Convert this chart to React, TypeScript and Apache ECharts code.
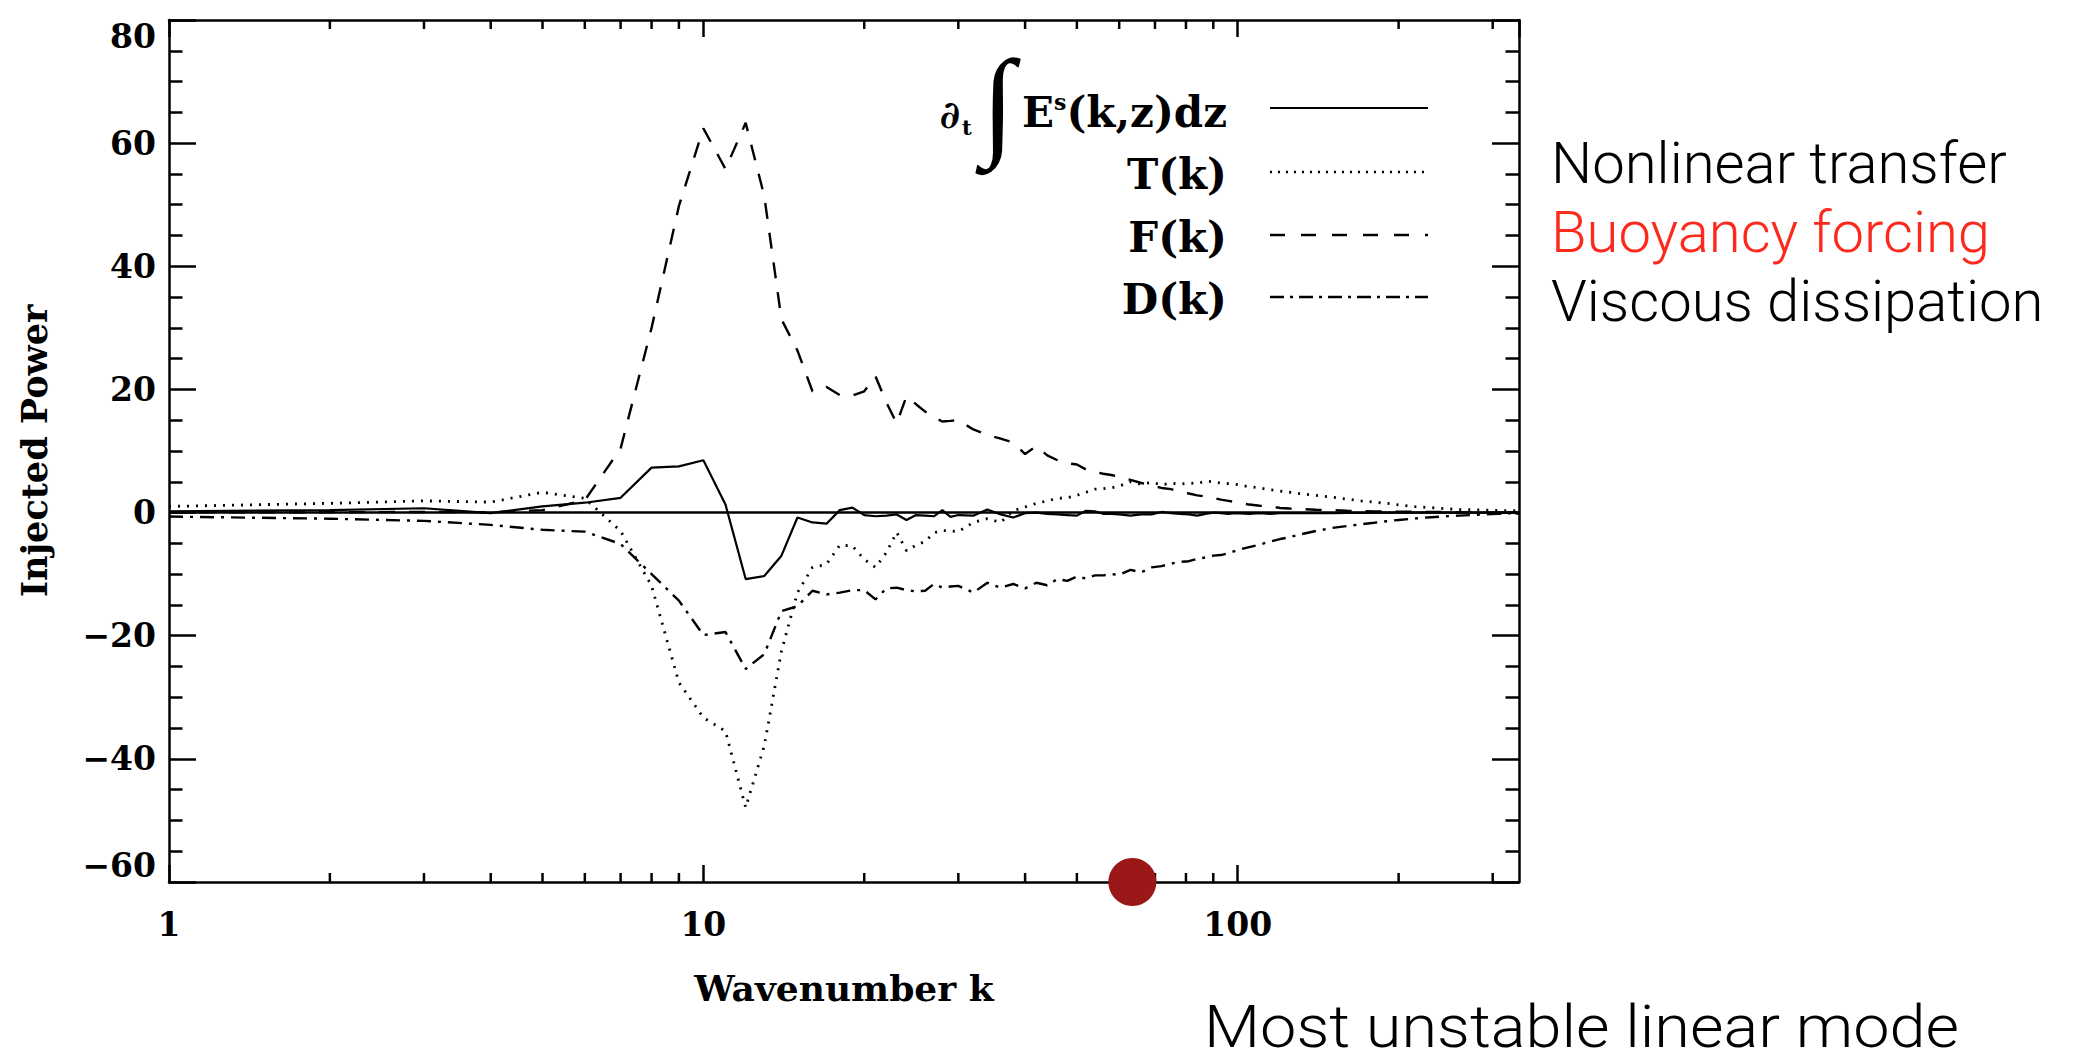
import React, { useEffect, useRef } from 'react';
import * as echarts from 'echarts';

// Wavenumbers sampled
const K = [
  1, 2, 3, 4, 5, 6, 7, 8, 9, 10, 11, 12, 13, 14, 15, 16, 17, 18, 19, 20,
  21, 22, 23, 24, 25, 26, 27, 28, 29, 30, 32, 34, 36, 38, 40, 42, 44, 46, 48, 50,
  52, 54, 56, 58, 60, 63, 66, 69, 72, 75, 78, 81, 84, 87, 90, 93, 96, 99, 105, 110,
  115, 120, 125, 130, 140, 150, 160, 170, 180, 190, 200, 215, 230, 245, 260, 275, 290, 305, 320, 336,
];

// d/dt of integrated energy (solid)
const DEDT = [
  0.2, 0.4, 0.7, -0.1, 1.0, 1.6, 2.4, 7.3, 7.5, 8.5, 1.3, -10.8, -10.3, -7.0, -0.8, -1.6, -1.8, 0.4, 0.8, -0.4,
  -0.6, -0.5, -0.3, -1.2, -0.4, -0.5, -0.6, 0.4, -0.7, -0.4, -0.5, 0.5, -0.3, -0.8, -0.1, 0.0, -0.2, -0.3, -0.4, -0.5,
  0.3, 0.2, -0.2, -0.2, -0.3, -0.5, -0.3, -0.3, 0.1, -0.1, -0.2, -0.3, -0.5, -0.2, 0.0, -0.1, -0.2, -0.1, -0.2, -0.1,
  -0.2, -0.1, -0.1, -0.1, -0.1, -0.1, -0.05, -0.05, 0, 0, 0, 0, 0, 0, 0, 0, 0, 0, 0, 0,
];

// T(k) nonlinear transfer (dotted)
const TK = [
  1.0, 1.5, 1.9, 1.7, 3.3, 2.3, -3.0, -11.9, -27.6, -33.3, -35.5, -47.9, -37.9, -22.5, -13.0, -8.9, -8.4, -5.3, -5.4, -7.6,
  -8.9, -6.5, -3.2, -6.2, -5.3, -4.7, -3.3, -2.9, -3.0, -3.1, -1.6, -1.0, -1.6, 0.3, 0.9, 1.5, 1.9, 2.3, 2.4, 2.8,
  3.3, 3.8, 3.9, 4.0, 4.3, 5.0, 4.6, 4.9, 4.5, 4.8, 4.6, 4.8, 4.7, 5.1, 5.0, 4.8, 4.7, 4.6, 4.2, 4.0,
  3.7, 3.5, 3.3, 3.1, 2.8, 2.5, 2.2, 1.9, 1.7, 1.5, 1.25, 0.95, 0.8, 0.62, 0.5, 0.45, 0.4, 0.35, 0.3, 0.3,
];

// F(k) buoyancy forcing (dashed)
const FK = [
  0.05, 0.05, 0.1, 0.05, 0.4, 2.0, 10.4, 30.0, 49.8, 62.4, 55.8, 63.3, 51.4, 31.4, 26.3, 19.7, 20.4, 19.1, 19.0, 19.7,
  22.1, 17.9, 14.5, 18.9, 17.6, 16.4, 15.5, 14.8, 14.9, 15.0, 13.5, 12.6, 12.0, 11.4, 9.5, 10.8, 9.3, 8.5, 8.0, 7.8,
  7.0, 6.6, 6.3, 6.1, 5.8, 5.3, 4.8, 4.4, 4.0, 3.8, 3.4, 3.1, 2.8, 2.6, 2.4, 2.1, 1.9, 1.7, 1.3, 1.1,
  1.0, 0.75, 0.65, 0.6, 0.45, 0.4, 0.3, 0.25, 0.2, 0.18, 0.15, 0.12, 0.1, 0.08, 0.05, 0.03, 0, -0.1, -0.2, -0.15,
];

// D(k) viscous dissipation (dash-dot)
const DK = [
  -0.65, -1.0, -1.35, -2.0, -2.8, -3.1, -5.1, -10.0, -14.3, -19.9, -19.4, -25.4, -23.0, -16.0, -15.2, -12.7, -13.3, -13.0, -12.6, -12.6,
  -14.1, -12.3, -12.2, -12.6, -12.8, -12.7, -11.6, -12.2, -12.0, -11.9, -13.0, -11.4, -12.2, -11.6, -12.3, -11.4, -11.8, -10.8, -11.1, -10.4,
  -10.7, -10.2, -10.2, -10.0, -10.1, -9.3, -9.7, -8.9, -8.7, -8.3, -8.0, -7.9, -7.5, -7.3, -7.0, -6.9, -6.6, -6.2, -5.6, -5.2,
  -4.7, -4.3, -4.0, -3.6, -3.0, -2.5, -2.2, -1.9, -1.65, -1.4, -1.2, -0.95, -0.75, -0.6, -0.5, -0.4, -0.3, -0.2, -0.1, -0.1,
];

const X_MIN = 1;
const X_MAX = 336;
const Y_MIN = -60;
const Y_MAX = 80;
const Y_INTERVAL = 20;
const X_MINOR_TICKS = [2, 3, 4, 5, 6, 7, 8, 9, 20, 30, 40, 50, 60, 70, 80, 90, 200, 300];
const UNSTABLE_MODE = [[63.5, -60]];

const LEGEND_T = 'T(k)';
const LEGEND_F = 'F(k)';
const LEGEND_D = 'D(k)';
const SIDE_LABELS = ['Nonlinear transfer', 'Buoyancy forcing', 'Viscous dissipation'];
const BOTTOM_LABEL = 'Most unstable linear mode';
const X_TITLE = 'Wavenumber k';
const Y_TITLE = 'Injected Power';

const SERIF = 'DejaVu Serif';
const SANS = 'Roboto, "Liberation Sans", sans-serif';

const pair = (ys: number[]) => K.map((k, i) => [k, ys[i]]);

const axisLineStyle = { color: '#000', width: 2.5 };

const xAxisBase = (pos: 'bottom' | 'top', showLabel: boolean) => ({
  type: 'log',
  logBase: 10,
  min: X_MIN,
  max: X_MAX,
  position: pos,
  axisLine: { show: true, onZero: false, lineStyle: axisLineStyle },
  axisTick: { show: true, inside: true, length: 17, lineStyle: axisLineStyle },
  minorTick: { show: false },
  splitLine: { show: false },
  minorSplitLine: { show: false },
  axisLabel: {
    show: showLabel,
    margin: 26,
    color: '#000',
    fontFamily: SERIF,
    fontWeight: 'bold',
    fontSize: 33,
    showMaxLabel: false,
    formatter: (v: number) => {
      const l = Math.log10(v);
      return Math.abs(l - Math.round(l)) < 1e-6 ? String(Math.round(v)) : '';
    },
  },
});

const yAxisBase = (pos: 'left' | 'right', showLabel: boolean) => ({
  type: 'value',
  min: Y_MIN,
  max: Y_MAX,
  interval: Y_INTERVAL,
  position: pos,
  axisLine: { show: true, onZero: false, lineStyle: axisLineStyle },
  axisTick: { show: true, inside: true, length: 27, lineStyle: axisLineStyle },
  minorTick: { show: true, splitNumber: 4, length: 13.5, lineStyle: axisLineStyle },
  splitLine: { show: false },
  axisLabel: {
    show: showLabel,
    margin: 13,
    color: '#000',
    fontFamily: SERIF,
    fontWeight: 'bold',
    fontSize: 33,
    verticalAlignMaxLabel: 'top',
    verticalAlignMinLabel: 'bottom',
    formatter: (v: number) => String(v).replace('-', '\u2212'),
  },
});

export default function App() {
  const ref = useRef<HTMLDivElement>(null);

  useEffect(() => {
    document.body.style.margin = '0';
    const chart = echarts.init(ref.current as HTMLDivElement, null, { renderer: 'svg' });

    const legendText = (text: string, y: number) => ({
      type: 'text',
      x: 1227,
      y,
      style: {
        text,
        fill: '#000',
        font: `bold 42px "${SERIF}"`,
        align: 'right',
        verticalAlign: 'middle',
      },
    });
    const legendLine = (y: number, width: number, dash: number[] | null) => ({
      type: 'line',
      shape: { x1: 1270, y1: y, x2: 1428, y2: y },
      style: { stroke: '#000', lineWidth: width, lineDash: dash || undefined },
    });
    const sideText = (text: string, y: number, color: string, size: number, x: number, va = 'middle', sx = 1) => ({
      type: 'text',
      x,
      y,
      scaleX: sx,
      style: {
        text,
        fill: color,
        font: `300 ${size}px ${SANS}`,
        align: 'left',
        verticalAlign: va,
      },
    });

    const option = {
      animation: false,
      backgroundColor: '#fff',
      grid: { left: 169, right: 567, top: 20, bottom: 180 },
      xAxis: [
        {
          ...xAxisBase('bottom', true),
          name: X_TITLE,
          nameLocation: 'middle',
          nameGap: 88,
          nameTextStyle: { fontFamily: SERIF, fontWeight: 'bold', fontSize: 36, color: '#000' },
        },
        xAxisBase('top', false),
      ],
      yAxis: [
        {
          ...yAxisBase('left', true),
          name: Y_TITLE,
          nameLocation: 'middle',
          nameGap: 117,
          nameRotate: 90,
          nameTextStyle: { fontFamily: SERIF, fontWeight: 'bold', fontSize: 35, color: '#000' },
        },
        yAxisBase('right', false),
      ],
      series: [
        {
          type: 'line',
          name: 'dEdt',
          data: pair(DEDT),
          symbol: 'none',
          lineStyle: { color: '#000', width: 2.2, type: 'solid' },
          markLine: {
            silent: true,
            symbol: ['none', 'none'],
            label: { show: false },
            lineStyle: { color: '#000', width: 2.5, type: 'solid' },
            data: [{ yAxis: 0 }],
          },
          z: 3,
        },
        {
          type: 'line',
          name: 'T',
          data: pair(TK),
          symbol: 'none',
          lineStyle: { color: '#000', width: 2.8, type: [2, 7] },
          z: 3,
        },
        {
          type: 'line',
          name: 'F',
          data: pair(FK),
          symbol: 'none',
          lineStyle: { color: '#000', width: 2.4, type: [16, 14] },
          z: 3,
        },
        {
          type: 'line',
          name: 'D',
          data: pair(DK),
          symbol: 'none',
          lineStyle: { color: '#000', width: 2.4, type: [14, 7, 3, 7] },
          z: 3,
        },
        {
          type: 'custom',
          name: 'minorTicks',
          data: X_MINOR_TICKS.map((k) => [k, Y_MIN]),
          encode: { x: 0, y: 1 },
          clip: false,
          silent: true,
          renderItem: (_params: any, api: any) => {
            const k = api.value(0);
            const bot = api.coord([k, Y_MIN]);
            const top = api.coord([k, Y_MAX]);
            const st = { stroke: '#000', lineWidth: 2.5 };
            return {
              type: 'group',
              children: [
                { type: 'line', shape: { x1: bot[0], y1: bot[1], x2: bot[0], y2: bot[1] - 9 }, style: st },
                { type: 'line', shape: { x1: top[0], y1: top[1], x2: top[0], y2: top[1] + 9 }, style: st },
              ],
            };
          },
          z: 4,
        },
        {
          type: 'scatter',
          name: 'unstable',
          data: UNSTABLE_MODE,
          symbol: 'circle',
          symbolSize: 48,
          itemStyle: { color: '#9a1818', opacity: 1 },
          clip: false,
          silent: true,
          z: 10,
        },
      ],
      graphic: [
        // legend row 1: ∂t ∫ E^s(k,z)dz
        {
          type: 'text',
          x: 960,
          y: 114,
          style: { text: '\u2202', fill: '#000', font: `bold 38px "${SERIF}"`, align: 'right', verticalAlign: 'middle' },
        },
        {
          type: 'text',
          x: 962,
          y: 127,
          style: { text: 't', fill: '#000', font: `bold 21px "${SERIF}"`, align: 'left', verticalAlign: 'middle' },
        },
        {
          type: 'text',
          x: 998,
          y: 102,
          style: { text: '\u222B', fill: '#000', font: `120px "Liberation Serif"`, align: 'center', verticalAlign: 'middle' },
        },
        {
          type: 'text',
          x: 1227,
          y: 112,
          style: {
            text: '{b|E}{s|s}{b|(k,z)dz}',
            align: 'right',
            verticalAlign: 'middle',
            rich: {
              b: { fontFamily: SERIF, fontWeight: 'bold', fontSize: 42, fill: '#000', color: '#000', verticalAlign: 'middle' },
              s: { fontFamily: SERIF, fontWeight: 'bold', fontSize: 22, fill: '#000', color: '#000', verticalAlign: 'top' },
            },
          },
        },
        legendText(LEGEND_T, 174),
        legendText(LEGEND_F, 237),
        legendText(LEGEND_D, 299),
        legendLine(108, 2.2, null),
        legendLine(172, 2.6, [2, 6]),
        legendLine(235, 2.4, [15, 16]),
        legendLine(297, 2.4, [14, 6, 3, 6]),
        sideText(SIDE_LABELS[0], 163, '#000', 58, 1551),
        sideText(SIDE_LABELS[1], 232, '#fc2a1c', 58, 1551),
        sideText(SIDE_LABELS[2], 301, '#000', 58, 1551),
        sideText(BOTTOM_LABEL, 1056, '#000', 60, 1204, 'bottom', 1.08),
      ],
    };

    chart.setOption(option as any);
    return () => chart.dispose();
  }, []);

  return <div ref={ref} style={{ width: 2086, height: 1062 }} />;
}
